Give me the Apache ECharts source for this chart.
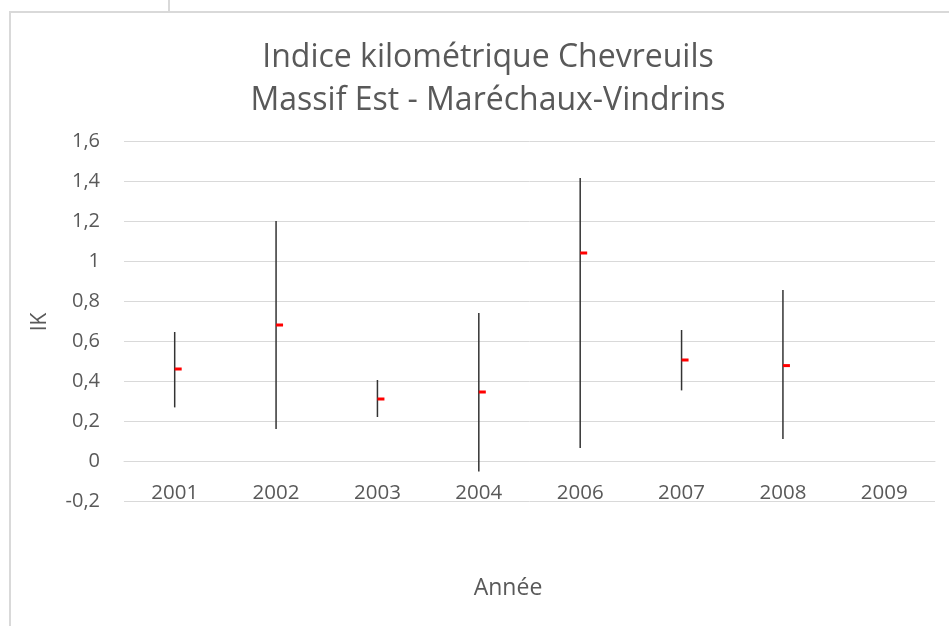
<!DOCTYPE html>
<html>
<head>
<meta charset="utf-8">
<script src="https://cdn.jsdelivr.net/npm/echarts@6/dist/echarts.min.js"></script>
<style>
  html, body { margin: 0; padding: 0; background: #fff; }
  #chart { width: 949px; height: 626px; }
</style>
</head>
<body>
<div id="chart"></div>
<script>
// données
var annees = ['2001', '2002', '2003', '2004', '2006', '2007', '2008', '2009'];
var ikMoyen = [0.46, 0.68, 0.31, 0.345, 1.04, 0.505, 0.477, null];
var ikMin = [0.268, 0.16, 0.22, -0.052, 0.065, 0.353, 0.11, null];
var ikMax = [0.645, 1.20, 0.405, 0.74, 1.415, 0.655, 0.855, null];

var textColor = '#595959';
var gridColor = '#d9d9d9';

var barData = [];
for (var i = 0; i < annees.length; i++) {
    if (ikMoyen[i] === null) continue;
    barData.push([i, ikMin[i], ikMax[i], ikMoyen[i]]);
}

var chart = echarts.init(document.getElementById('chart'));
var option = {
    backgroundColor: '#fff',
    animation: false,
    textStyle: { fontFamily: 'Open Sans' },
    grid: {
        left: 124,
        right: 14,
        top: 141,
        bottom: 125
    },
    xAxis: {
        type: 'category',
        data: annees,
        offset: -40, // l'axe des catégories croise en 0
        axisLine: { lineStyle: { color: gridColor, width: 1 } },
        axisTick: { show: false },
        axisLabel: { color: textColor, fontSize: 20.5, margin: 22 }
    },
    yAxis: {
        type: 'value',
        min: -0.2,
        max: 1.6,
        interval: 0.2,
        axisLine: { show: false },
        axisTick: { show: false },
        axisLabel: {
            color: textColor,
            fontSize: 20,
            margin: 24,
            formatter: function (v) {
                return String(+v.toFixed(1)).replace('.', ',');
            }
        },
        splitLine: { lineStyle: { color: gridColor, width: 1 } }
    },
    graphic: [
        // cadre du graphique
        { type: 'rect', shape: { x: 10, y: 12, width: 960, height: 640 },
          style: { fill: 'none', stroke: '#d9d9d9', lineWidth: 2 }, z: -1 },
        { type: 'line', shape: { x1: 169, y1: 0, x2: 169, y2: 12 },
          style: { stroke: '#d9d9d9', lineWidth: 2 }, z: -1 },
        { type: 'text', x: 488, y: 79,
          style: { text: 'Indice kilométrique Chevreuils\nMassif Est - Maréchaux-Vindrins', fill: textColor,
                   font: '32px "Open Sans"', lineHeight: 43, align: 'center', verticalAlign: 'middle' } },
        { type: 'text', x: 40, y: 322, rotation: Math.PI / 2,
          style: { text: 'IK', fill: textColor, font: '21px "Open Sans"',
                   align: 'center', verticalAlign: 'middle' } },
        { type: 'text', x: 508, y: 588,
          style: { text: 'Année', fill: textColor, font: '23px "Open Sans"',
                   align: 'center', verticalAlign: 'middle' } }
    ],
    series: [
        {
            type: 'custom',
            name: 'IK',
            data: barData,
            renderItem: function (params, api) {
                var bas = api.coord([api.value(0), api.value(1)]);
                var haut = api.coord([api.value(0), api.value(2)]);
                var moy = api.coord([api.value(0), api.value(3)]);
                return {
                    type: 'group',
                    children: [
                        {
                            type: 'line',
                            shape: { x1: bas[0], y1: bas[1], x2: haut[0], y2: haut[1] },
                            style: { stroke: '#333333', lineWidth: 1.5 }
                        },
                        {
                            type: 'rect',
                            shape: { x: moy[0], y: moy[1] - 1.5, width: 7, height: 3 },
                            style: { fill: '#ff0000' }
                        }
                    ]
                };
            }
        }
    ]
};
chart.setOption(option);
</script>
</body>
</html>
